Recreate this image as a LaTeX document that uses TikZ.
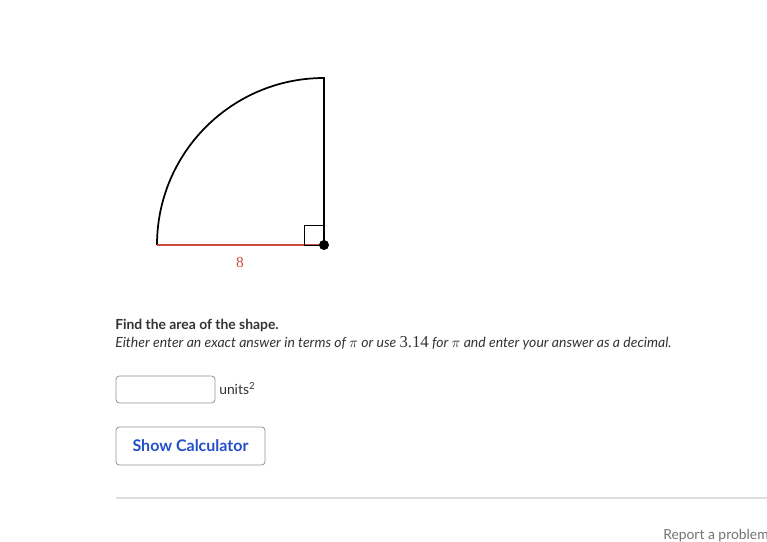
\documentclass[tikz,border=0pt]{standalone}
\usepackage{amsmath}
\usepackage{xcolor}
\usepackage{fontspec}
\setmainfont{Lato}
\newfontfamily\serifnum{Liberation Serif}
\usetikzlibrary{calc}
\definecolor{sidered}{RGB}{205,75,60}
\definecolor{btnblue}{RGB}{35,80,200}
\definecolor{boxgray}{RGB}{150,150,150}
\definecolor{rulegray}{RGB}{222,222,222}
\definecolor{reportgray}{RGB}{115,115,115}

\begin{document}
\begin{tikzpicture}[x=0.75pt,y=-0.75pt,
  txt/.style={inner sep=0pt,anchor=base west,text=black!80},
  field/.style={draw=boxgray,rounded corners=2.5pt,line width=0.6pt}]
\useasboundingbox (0,0) rectangle (767,542);
\clip (0,0) rectangle (767,542);
\fill [white](0,0) rectangle (767,542);

% the quarter circle
\coordinate (O) at (324,245);
\coordinate (L) at (157,245);
\coordinate (T) at (324,79);
\draw [line width=1.3pt] (L) arc[start angle=180,end angle=270,radius=167] -- (O);
\draw [line width=1.6pt, sidered] (L) -- (O);
\draw [line width=0.6pt] ($(O)+(-20,0)$) rectangle ($(O)+(0,-20)$);
\fill (O) circle[radius=5];
\node [text=sidered,font=\serifnum\fontsize{11.5}{13}\selectfont] (r) at (240,262) {8};

% question text
\node [txt,font=\fontsize{10.4}{12}\selectfont\bfseries] (q) at (115,329) {Find the area of the shape.};
\node [txt,font=\fontsize{10.5}{12}\selectfont\itshape] (hint) at (115,347)
  {Either enter an exact answer in terms of $\pi$ or use {\serifnum\upshape\fontsize{12.5}{12}\selectfont 3.14} for $\pi$ and enter your answer as a decimal.};

% answer field
\draw [field] (116,376) rectangle (215,403);
\node [txt,font=\fontsize{10.4}{12}\selectfont] (units) at (219,394) {units\textsuperscript{2}};

% button
\draw [field] (116,427) rectangle (265,465);
\node [text=btnblue,font=\fontsize{12}{14}\selectfont\bfseries] (calc) at (190.5,446) {Show Calculator};

\draw [rulegray, line width=0.8pt] (116,498) -- (767,498);
\node [txt,text=reportgray,font=\fontsize{10.4}{12}\selectfont] (report) at (663,539) {Report a problem};
\end{tikzpicture}
\end{document}
